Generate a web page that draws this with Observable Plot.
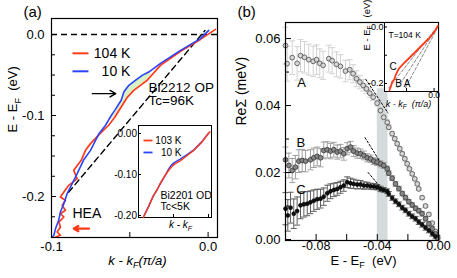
<!DOCTYPE html>
<html><head><meta charset="utf-8">
<script src="https://cdn.jsdelivr.net/npm/d3@7"></script>
<script src="https://cdn.jsdelivr.net/npm/@observablehq/plot@0.6"></script>
<style>
body{margin:0;background:#fff}
#fig{position:relative;width:457px;height:278px;background:#fff;overflow:hidden}
</style>
</head><body><div id="fig"></div>
<script>
// ================= DATA : panel (a) main =================
const a104_k = [-0.0974,-0.0943,-0.0964,-0.0943,-0.0953,-0.0921,-0.0943,-0.0911,-0.0932,-0.0911,-0.0943,-0.0921,-0.089,-0.0836,-0.0858,-0.081,-0.0783,-0.0751,-0.069,-0.0635,-0.0595,-0.0555,-0.0515,-0.0475,-0.0432,-0.0389,-0.0304,-0.0176,-0.0049,0.0047];
const a104_E = [-0.2500,-0.2479,-0.2438,-0.2376,-0.2315,-0.2253,-0.2212,-0.217,-0.2109,-0.2047,-0.2006,-0.1944,-0.1862,-0.178,-0.1677,-0.1553,-0.143,-0.1347,-0.1224,-0.112,-0.1019,-0.0895,-0.0772,-0.0689,-0.0627,-0.0565,-0.038,-0.0207,-0.006,0.0064];
const a10_k = [-0.0995,-0.0985,-0.0974,-0.0954,-0.0943,-0.0921,-0.09,-0.0868,-0.0836,-0.0796,-0.0751,-0.0697,-0.0655,-0.0618,-0.0596,-0.0555,-0.0538,-0.0506,-0.0464,-0.0421,-0.0379,-0.0304,-0.0176,-0.0049,0.0004];
const a10_E = [-0.2500,-0.2479,-0.2396,-0.2294,-0.2191,-0.2088,-0.1964,-0.1841,-0.1717,-0.1553,-0.143,-0.1224,-0.112,-0.0998,-0.0936,-0.0812,-0.071,-0.0627,-0.0565,-0.0504,-0.0463,-0.0356,-0.0195,-0.005,0.0052];
const aFill_E = [-0.046,-0.0504,-0.0565,-0.0627,-0.0689,-0.0772,-0.0895,-0.0998,-0.105];
const aFill_k10 = [-0.0385,-0.0421,-0.0464,-0.0506,-0.0536,-0.0547,-0.0574,-0.0618,-0.064];
const aFill_k104 = [-0.0375,-0.0361,-0.0389,-0.0432,-0.0475,-0.0515,-0.0555,-0.0590,-0.0615];
const aDiag_k = [-0.0891, -0.002];
const aDiag_E = [-0.1948, 0.005];
const aRef_E = [0];
const aXTicks = [-0.1, 0.0];
const aXMinor = [-0.05];
const aYTicks = [0.0, -0.1, -0.2];
const aYMinor = [-0.025,-0.05,-0.075,-0.125,-0.15,-0.175,-0.225];

// ================= DATA : panel (a) inset =================
const ia103_k = [-0.093,-0.086,-0.08,-0.074,-0.069,-0.063,-0.057,-0.052,-0.048,-0.04,-0.03,-0.021,-0.01,0,0.002];
const ia103_E = [-0.205,-0.18,-0.156,-0.139,-0.122,-0.105,-0.09,-0.08,-0.074,-0.066,-0.053,-0.041,-0.022,0,0.004];
const ia10_k = [-0.092,-0.085,-0.079,-0.073,-0.068,-0.062,-0.057,-0.053,-0.049,-0.041,-0.03,-0.021,-0.01,0];
const ia10_E = [-0.2,-0.176,-0.153,-0.136,-0.12,-0.103,-0.087,-0.077,-0.071,-0.063,-0.051,-0.04,-0.021,0.001];
const iaYTicks = [0.0, -0.1, -0.2];
const iaXMinor = [-0.05, 0];

// ================= DATA : panel (b) main =================
const bA_E = [-0.1,-0.0989,-0.0956,-0.0924,-0.0902,-0.0876,-0.0848,-0.0819,-0.0797,-0.0776,-0.0754,-0.0717,-0.0695,-0.0667,-0.0641,-0.0608,-0.058,-0.0558,-0.0536,-0.0514,-0.0492,-0.0471,-0.0449,-0.0427,-0.0401,-0.0379,-0.0358,-0.0335,-0.0325,-0.0303,-0.0286,-0.027,-0.0253,-0.0237,-0.022,-0.0205,-0.019,-0.0172,-0.0155,-0.0139,-0.0129,-0.0107,-0.0085,-0.0063,-0.0041,-0.002,-0.0007];
const bA_R = [0.0579,0.0525,0.0543,0.0526,0.0549,0.0544,0.0537,0.0532,0.0537,0.0526,0.052,0.054,0.0534,0.0523,0.0517,0.0503,0.0507,0.0495,0.048,0.047,0.046,0.045,0.0437,0.0425,0.0407,0.0385,0.0365,0.035,0.0335,0.0316,0.0301,0.0286,0.0271,0.0256,0.0241,0.0226,0.0211,0.0196,0.0181,0.0166,0.0151,0.0125,0.01,0.0075,0.0049,0.0024,0.0009];
const bA_err = [0.0055,0.0052,0.005,0.005,0.0048,0.0047,0.0046,0.0045,0.0044,0.0043,0.0042,0.004,0.0039,0.0037,0.0035,0.0032,0.003,0.0027,0.0024,0.002,0.0017,0.0014,0.0012,0.001,0.0009,0.0008,0.0008,0.0007,0.0007,0.0007,0.0006,0.0006,0.0006,0.0006,0.0006,0.0006,0.0005,0.0005,0.0005,0.0005,0.0005,0.0005,0.0005,0.0005,0.0005,0.0005,0.0005];
const bB_E = [-0.1,-0.0978,-0.0956,-0.0935,-0.0913,-0.0891,-0.0869,-0.0837,-0.0815,-0.0793,-0.0771,-0.075,-0.0727,-0.0706,-0.0684,-0.0662,-0.0641,-0.0619,-0.0597,-0.0575,-0.0554,-0.0531,-0.051,-0.0488,-0.0466,-0.0444,-0.0423,-0.0401,-0.0379,-0.0358,-0.0335,-0.0325,-0.0303,-0.0281,-0.0259,-0.0237,-0.0216,-0.0194,-0.0172,-0.015,-0.0129,-0.0107,-0.0085,-0.0063,-0.0041,-0.002,-0.0005];
const bB_R = [0.0238,0.0221,0.0206,0.0216,0.0234,0.0236,0.0234,0.0238,0.0244,0.0248,0.0244,0.0266,0.0268,0.0264,0.0268,0.0261,0.0264,0.0256,0.0271,0.0276,0.0264,0.0258,0.0256,0.0251,0.0244,0.0241,0.0234,0.0231,0.0226,0.0221,0.0211,0.0198,0.0183,0.0166,0.0152,0.0137,0.0125,0.0113,0.0103,0.0093,0.0086,0.0077,0.0062,0.0047,0.0032,0.0017,0.0004];
const bB_err = [0.0038,0.0037,0.0036,0.0035,0.0034,0.0033,0.0032,0.003,0.0029,0.0028,0.0027,0.0025,0.0024,0.0023,0.0022,0.0021,0.002,0.0019,0.0018,0.0017,0.0016,0.0015,0.0014,0.0013,0.0012,0.0011,0.001,0.001,0.0009,0.0009,0.0008,0.0007,0.0007,0.0007,0.0007,0.0007,0.0007,0.0007,0.0007,0.0007,0.0007,0.0007,0.0007,0.0007,0.0007,0.0007,0.0007];
const bC_E = [-0.1,-0.0985,-0.0967,-0.0946,-0.0924,-0.0902,-0.088,-0.0858,-0.0837,-0.0815,-0.0793,-0.0771,-0.075,-0.0727,-0.0706,-0.0684,-0.0662,-0.0641,-0.0619,-0.0597,-0.0575,-0.0554,-0.0531,-0.051,-0.0488,-0.0466,-0.0444,-0.0423,-0.0401,-0.0379,-0.0358,-0.0335,-0.0325,-0.0303,-0.0281,-0.0259,-0.0237,-0.0216,-0.0194,-0.0172,-0.015,-0.0129,-0.0107,-0.0085,-0.0063,-0.0041,-0.002];
const bC_R = [0.0092,0.0072,0.0095,0.0077,0.0085,0.0102,0.0105,0.0107,0.0111,0.0116,0.012,0.0122,0.0128,0.0138,0.0144,0.0148,0.0151,0.0156,0.0161,0.0171,0.0168,0.0166,0.0164,0.0164,0.0161,0.0161,0.0159,0.0158,0.0156,0.0151,0.0148,0.0144,0.0136,0.0124,0.0114,0.0105,0.0095,0.0087,0.0077,0.0069,0.0062,0.0052,0.0044,0.0035,0.0027,0.0017,0.0009];
const bC_err = [0.0048,0.0047,0.0046,0.0044,0.0042,0.004,0.0038,0.0036,0.0034,0.0032,0.003,0.0028,0.0026,0.0024,0.0022,0.002,0.0019,0.0018,0.0017,0.0016,0.0015,0.0014,0.0013,0.0012,0.0011,0.001,0.0009,0.0009,0.0008,0.0008,0.0007,0.0007,0.0007,0.0007,0.0007,0.0007,0.0007,0.0007,0.0007,0.0007,0.0007,0.0007,0.0007,0.0007,0.0007,0.0007,0.0007];
const bTanA_E = [-0.0475, -0.033], bTanA_R = [0.0478, 0.0378];
const bTanB_E = [-0.048, -0.036],  bTanB_R = [0.0304, 0.0216];
const bTanC_E = [-0.046, -0.036],  bTanC_R = [0.0200, 0.0146];
const bBand_E = [-0.040, -0.033];
const bBand_R = [-0.0003, 0.045];
const bXTicks = [-0.08, -0.04, 0.0];
const bXMinor = [-0.06, -0.02];
const bYTicks = [0.0, 0.02, 0.04, 0.06];
const bYMinor = [0.01, 0.03, 0.05];

// ================= DATA : panel (b) inset =================
const ib_k = [-0.081,-0.078,-0.076,-0.072,-0.070,-0.064,-0.055,-0.046,-0.0368,-0.0278,-0.0187,-0.0065,0.0025,0.0067];
const ib_E = [-0.224,-0.208,-0.194,-0.185,-0.171,-0.147,-0.129,-0.1115,-0.0938,-0.0761,-0.0584,-0.0347,-0.0113,0.0042];
const ibC_k = [-0.082, 0.005], ibC_E = [-0.215, 0.0];
const ibB_k = [-0.066, 0.006], ibB_E = [-0.215, 0.0];
const ibA_k = [-0.052, 0.007], ibA_E = [-0.215, 0.0];
const ibYTicks = [0.0, -0.2];
const ibYMinor = [-0.1];
const ibXTicks = [0.0];
const ibXMinor = [-0.05];

// ================= drawing =================
const FONT = "'Liberation Sans', Arial, Helvetica, sans-serif";
const W = 457, H = 278;
const RED = "#ff3b1c", BLUE = "#2a44ff";
const fig = document.getElementById("fig");
const NS = "http://www.w3.org/2000/svg";
const pts = (xs, ys) => xs.map((x, i) => ({x, y: ys[i]}));
const errRows = (xs, ys, es) => xs.map((x, i) => ({x, y: ys[i], e: es[i]}));
const f1 = d => d.toFixed(1), f2 = d => d.toFixed(2), none = () => "";
const note = (t, x, y, o = {}) => Plot.text([t], {x: [x], y: [y], text: d => d, ...o});
const edge = (t, frameAnchor, dx, dy, o = {}) => Plot.text([t], {frameAnchor, dx, dy, text: d => d, ...o});
const cap = {draw(ctx, size) { const w = Math.sqrt(size / Math.PI); ctx.moveTo(-w, 0); ctx.lineTo(w, 0); }};

function subs(svg) {
  svg.querySelectorAll("text").forEach(t => {
    if (t.children.length) return;
    const s = t.textContent, i = s.indexOf("_");
    if (i < 0) return;
    const fs = parseFloat(getComputedStyle(t).fontSize) || 12;
    t.textContent = s.slice(0, i);
    const sb = document.createElementNS(NS, "tspan");
    sb.setAttribute("dy", (0.3 * fs).toFixed(1));
    sb.setAttribute("font-size", (0.7 * fs).toFixed(1));
    sb.textContent = s[i + 1];
    t.appendChild(sb);
    const rest = s.slice(i + 2);
    if (rest) {
      const ta = document.createElementNS(NS, "tspan");
      ta.setAttribute("dy", (-0.3 * fs).toFixed(1));
      ta.textContent = rest;
      t.appendChild(ta);
    }
  });
}
function add(svg) {
  Object.assign(svg.style, {background: "transparent", position: "absolute", left: "0px", top: "0px", fontFamily: FONT, overflow: "visible", maxWidth: "none"});
  fig.appendChild(svg);
  subs(svg);
}

// ---------- panel (a) main ----------
const fillRows = aFill_E.map((E, i) => ({E, kb: aFill_k10[i], kr: aFill_k104[i]}));
add(Plot.plot({
  width: W, height: H, marginLeft: 51, marginRight: 240, marginTop: 18, marginBottom: 41,
  x: {domain: [-0.1, 0.006], label: null}, y: {domain: [-0.2506, 0.0198], label: null},
  marks: [
    Plot.areaX(fillRows, {y: "E", x1: "kb", x2: "kr", fill: "#d9f0c4"}),
    Plot.ruleY(aRef_E, {stroke: "#000", strokeWidth: 1.4, strokeDasharray: "6,4"}),
    Plot.line(pts(aDiag_k, aDiag_E), {x: "x", y: "y", stroke: "#000", strokeWidth: 1.4, strokeDasharray: "6,4"}),
    Plot.line(pts(a104_k, a104_E), {x: "x", y: "y", stroke: RED, strokeWidth: 1.7}),
    Plot.line(pts(a10_k, a10_E), {x: "x", y: "y", stroke: BLUE, strokeWidth: 1.6}),
    Plot.link([0], {x1: [-0.0866], x2: [-0.0764], y1: [-0.0232], y2: [-0.0232], stroke: RED, strokeWidth: 2}),
    Plot.link([0], {x1: [-0.0866], x2: [-0.0764], y1: [-0.0454], y2: [-0.0454], stroke: BLUE, strokeWidth: 2}),
    note("104 K", -0.0496, -0.0232, {textAnchor: "end", fontSize: 14}),
    note("10 K", -0.0496, -0.0454, {textAnchor: "end", fontSize: 14}),
    note("Bi2212 OP", -0.038, -0.0652, {textAnchor: "start", fontSize: 13.5}),
    note("Tc=96K", -0.038, -0.0822, {textAnchor: "start", fontSize: 13.5}),
    Plot.arrow([0], {x1: [-0.0739], x2: [-0.059], y1: [-0.073], y2: [-0.073], stroke: "#000", strokeWidth: 1.4, headLength: 7}),
    Plot.arrow([0], {x1: [-0.0761], x2: [-0.0857], y1: [-0.2396], y2: [-0.2396], stroke: RED, strokeWidth: 2.4, headLength: 6}),
    note("HEA", -0.0866, -0.2207, {textAnchor: "start", fontSize: 14}),
    Plot.frame({stroke: "#000", strokeWidth: 1.2}),
    Plot.axisX(aXTicks, {tickSize: -5, tickPadding: 9, tickFormat: f1, fontSize: 13, label: null}),
    Plot.axisX(aXMinor, {tickSize: -5, tickFormat: none, label: null}),
    Plot.axisY(aYTicks, {tickSize: -5, tickPadding: 12, tickFormat: f1, fontSize: 13, label: null}),
    Plot.axisY(aYMinor, {tickSize: -4, tickFormat: none, label: null}),
    edge("(a)", "top-left", -28, -6, {textAnchor: "start", lineAnchor: "middle", fontSize: 15}),
    edge("E - E_F  (eV)", "left", -39, 4.5, {rotate: -90, fontSize: 13}),
    edge("k - k_F(π/a)", "bottom", 3, 27, {fontSize: 13, fontStyle: "italic"})
  ]
}));

// ---------- panel (a) inset ----------
add(Plot.plot({
  width: W, height: H, marginLeft: 138, marginRight: 246, marginTop: 125, marginBottom: 61,
  x: {domain: [-0.1, 0.0043], label: null}, y: {domain: [-0.2049, 0.0195], label: null},
  marks: [
    Plot.frame({fill: "#fff", stroke: "#000", strokeWidth: 1}),
    Plot.line(pts(ia10_k, ia10_E), {x: "x", y: "y", stroke: BLUE, strokeWidth: 1.5}),
    Plot.line(pts(ia103_k, ia103_E), {x: "x", y: "y", stroke: RED, strokeWidth: 1.5}),
    Plot.link([0], {x1: [-0.0929], x2: [-0.08], y1: [-0.0171], y2: [-0.0171], stroke: RED, strokeWidth: 1.8}),
    Plot.link([0], {x1: [-0.0929], x2: [-0.08], y1: [-0.0463], y2: [-0.0463], stroke: BLUE, strokeWidth: 1.8}),
    note("103 K", -0.0386, -0.0171, {textAnchor: "end", fontSize: 10}),
    note("10 K", -0.0386, -0.0463, {textAnchor: "end", fontSize: 10}),
    note("Bi2201 OD", -0.0686, -0.151, {textAnchor: "start", fontSize: 10.5}),
    note("Tc<5K", -0.0686, -0.178, {textAnchor: "start", fontSize: 10.5}),
    Plot.axisY(iaYTicks, {tickSize: -3, tickPadding: 4.5, tickFormat: f2, fontSize: 10, label: null}),
    Plot.axisX(iaXMinor, {tickSize: -3, tickFormat: none, label: null}),
    edge("k - k_F", "bottom", 5.5, 10, {fontSize: 10, fontStyle: "italic"})
  ]
}));

// ---------- panel (b) main ----------
const rA = errRows(bA_E, bA_R, bA_err), rB = errRows(bB_E, bB_R, bB_err), rC = errRows(bC_E, bC_R, bC_err);
const errMarks = (rows, color, w) => [
  Plot.ruleX(rows, {x: "x", y1: d => d.y - d.e, y2: d => d.y + d.e, stroke: color, strokeWidth: 1}),
  Plot.dot(rows, {x: "x", y: d => d.y + d.e, symbol: cap, r: w, stroke: color, strokeWidth: 1, fill: "none"}),
  Plot.dot(rows, {x: "x", y: d => d.y - d.e, symbol: cap, r: w, stroke: color, strokeWidth: 1, fill: "none"})
];
add(Plot.plot({
  width: W, height: H, marginLeft: 285, marginRight: 19, marginTop: 22, marginBottom: 38,
  x: {domain: [-0.1, 0], label: null}, y: {domain: [-0.0003, 0.0648], label: null},
  marks: [
    Plot.rect([0], {x1: [bBand_E[0]], x2: [bBand_E[1]], y1: [bBand_R[0]], y2: [bBand_R[1]], fill: "#d4dbda"}),
    ...errMarks(rA, "#d2d2d2", 3),
    ...errMarks(rB, "#a0a0a0", 3),
    ...errMarks(rC, "#5e5e5e", 3),
    Plot.line(pts(bTanA_E, bTanA_R), {x: "x", y: "y", stroke: "#000", strokeWidth: 1, strokeDasharray: "2,2"}),
    Plot.line(pts(bTanB_E, bTanB_R), {x: "x", y: "y", stroke: "#000", strokeWidth: 1, strokeDasharray: "2,2"}),
    Plot.line(pts(bTanC_E, bTanC_R), {x: "x", y: "y", stroke: "#000", strokeWidth: 1, strokeDasharray: "2,2"}),
    Plot.dot(rA, {x: "x", y: "y", r: 2.4, fill: "#d6d6d6", stroke: "#4a4a4a", strokeWidth: 0.8}),
    Plot.dot(rB, {x: "x", y: "y", r: 2.4, fill: "#868686", stroke: "#333", strokeWidth: 0.8}),
    Plot.dot(rC, {x: "x", y: "y", r: 2.0, fill: "#111", stroke: "#000", strokeWidth: 0.6}),
    note("A", -0.0895, 0.0469, {fontSize: 13, lineAnchor: "middle"}),
    note("B", -0.0899, 0.0288, {fontSize: 13, lineAnchor: "middle"}),
    note("C", -0.0899, 0.0148, {fontSize: 13, lineAnchor: "middle"}),
    Plot.frame({stroke: "#000", strokeWidth: 1.2}),
    Plot.axisX(bXTicks, {tickSize: -6, tickPadding: 7, tickFormat: f2, fontSize: 12.5, label: null}),
    Plot.axisX(bXMinor, {tickSize: -6, tickFormat: none, label: null}),
    Plot.axisY(bYTicks, {tickSize: -6, tickPadding: 11, tickFormat: f2, fontSize: 13, label: null}),
    Plot.axisY(bYMinor, {tickSize: -4, tickFormat: none, label: null}),
    edge("(b)", "top-left", -48, -10, {textAnchor: "start", lineAnchor: "middle", fontSize: 15}),
    edge("ReΣ (meV)", "left", -44, -6, {rotate: -90, fontSize: 14}),
    edge("E - E_F  (eV)", "bottom", 1.5, 24, {fontSize: 13})
  ]
}));

// ---------- panel (b) inset ----------
add(Plot.plot({
  width: W, height: H, marginLeft: 384, marginRight: 19, marginTop: 22, marginBottom: 187,
  x: {domain: [-0.09, 0.008], label: null}, y: {domain: [-0.2283, 0.0159], label: null},
  marks: [
    Plot.frame({fill: "#fff", stroke: "#000", strokeWidth: 1}),
    Plot.line(pts(ibC_k, ibC_E), {x: "x", y: "y", stroke: "#666", strokeWidth: 0.8, strokeDasharray: "3,2"}),
    Plot.line(pts(ibB_k, ibB_E), {x: "x", y: "y", stroke: "#666", strokeWidth: 0.8, strokeDasharray: "3,2"}),
    Plot.line(pts(ibA_k, ibA_E), {x: "x", y: "y", stroke: "#666", strokeWidth: 0.8, strokeDasharray: "3,2"}),
    Plot.line(pts(ib_k, ib_E), {x: "x", y: "y", stroke: RED, strokeWidth: 1.8}),
    note("T=104 K", -0.0828, -0.029, {textAnchor: "start", fontSize: 8.5}),
    note("C", -0.0746, -0.1416, {fontSize: 10, lineAnchor: "middle"}),
    note("B", -0.0646, -0.2, {fontSize: 10, lineAnchor: "middle"}),
    note("A", -0.0488, -0.2, {fontSize: 10, lineAnchor: "middle"}),
    Plot.axisY(ibYTicks, {tickSize: -3, tickPadding: 4, tickFormat: f1, fontSize: 9, label: null}),
    Plot.axisY(ibYMinor, {tickSize: -3, tickFormat: none, label: null}),
    Plot.axisX(ibXTicks, {tickSize: -3, tickPadding: 3, tickFormat: f1, fontSize: 8.5, label: null}),
    Plot.axisX(ibXMinor, {tickSize: -3, tickFormat: none, label: null}),
    edge("E - E_F   (eV)", "left", -18, -6.5, {rotate: -90, fontSize: 9.5}),
    edge("k - k_F  (π/a)", "bottom", -3, 15, {fontSize: 9, fontStyle: "italic"})
  ]
}));
</script>
</body></html>
